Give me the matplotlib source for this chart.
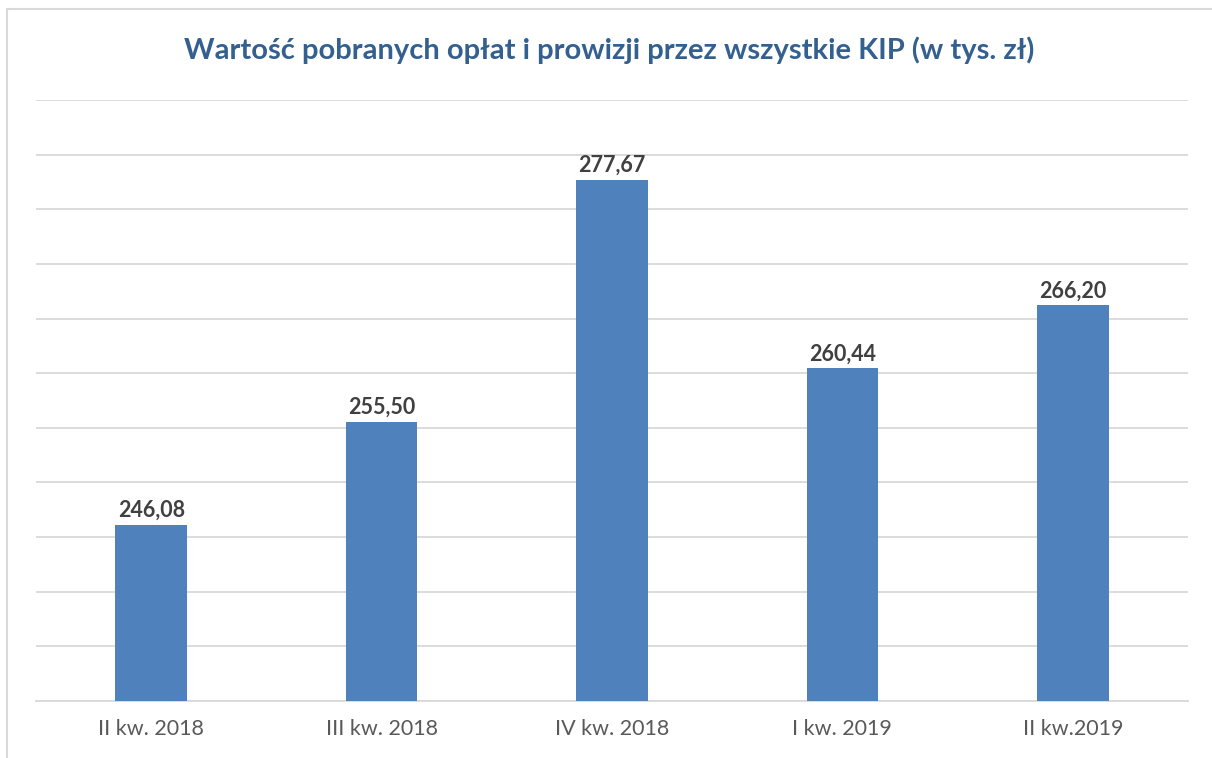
import matplotlib.pyplot as plt
from matplotlib.patches import Rectangle

categories = ["II kw. 2018", "III kw. 2018", "IV kw. 2018", "I kw. 2019", "II kw.2019"]
values = [246.08, 255.50, 277.67, 260.44, 266.20]
labels = ["246,08", "255,50", "277,67", "260,44", "266,20"]

plt.rcParams['font.family'] = ['Lato', 'DejaVu Sans']

fig = plt.figure(figsize=(12.12, 7.58), dpi=100)
# outer chart frame
fig.patches.append(Rectangle((6.5 / 1212, -0.1), 1.2, (758 - 9) / 758 + 0.1,
                             transform=fig.transFigure, fill=False,
                             edgecolor="#d9d9d9", linewidth=1.5))

ax = fig.add_axes([36 / 1212, 1 - 701 / 758, (1188 - 36) / 1212, (701 - 100) / 758])
x = range(len(categories))
ax.bar(x, values, width=0.31, color="#4f81bd", zorder=3)
ax.set_ylim(230, 285)
ax.set_xlim(-0.5, len(categories) - 0.5)
ax.set_yticks(range(230, 286, 5))
ax.yaxis.grid(True, color="#d9d9d9", linewidth=1.3)
ax.set_yticklabels([])
ax.tick_params(axis="y", length=0)
ax.tick_params(axis="x", length=0, pad=13, labelsize=15.5, labelcolor="#595959")
ax.set_xticks(list(x))
ax.set_xticklabels(categories)
for s in ["top", "right", "left"]:
    ax.spines[s].set_visible(False)
ax.spines["bottom"].set_color("#d9d9d9")
ax.spines["bottom"].set_linewidth(1.3)

for xi, v, lab in zip(x, values, labels):
    ax.annotate(lab, (xi, v), xytext=(0, 3), textcoords="offset points",
                ha="center", va="bottom", fontsize=15.5, fontweight="bold", color="#404040")

fig.text(0.503, 1 - 50 / 758, "Wartość pobranych opłat i prowizji przez wszystkie KIP (w tys. zł)",
         ha="center", va="center", fontsize=21, fontweight="bold", color="#34608f")

fig.savefig("out.png", dpi=100)
